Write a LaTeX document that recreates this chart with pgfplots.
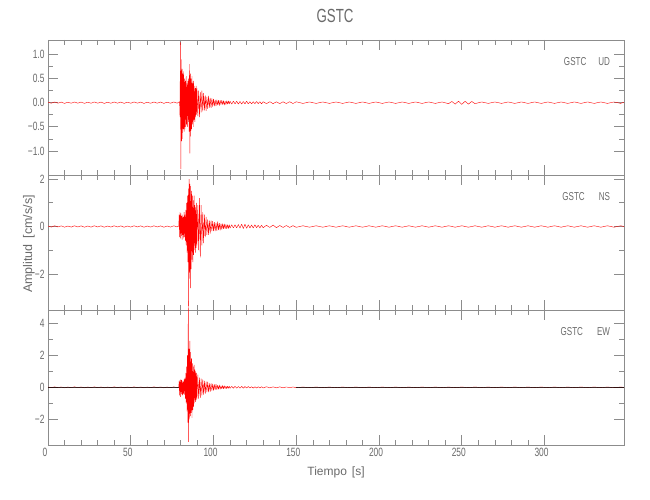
\documentclass[border=0pt]{standalone}
\usepackage{pgfplots}
\pgfplotsset{compat=1.18}
\usepackage{fontspec}
\setmainfont[FakeStretch=0.7]{Liberation Sans}
\newfontfamily\labfont{Liberation Sans}
\definecolor{axgray}{HTML}{8C8C8C}
\definecolor{labgray}{HTML}{6A6A6A}
\pgfplotsset{
  seis/.style={
    width=576pt, height=135pt, scale only axis,
    xmin=0, xmax=348,
    xtick={0,50,...,300}, minor x tick num=4,
    tick align=inside,
    major tick length=10pt, minor tick length=5pt,
    axis line style={axgray, line width=0.6pt},
    every tick/.style={axgray, line width=0.6pt},
    tick label style={font=\fontsize{12}{14}\selectfont, text=labgray},
    xticklabel style={xshift=-3pt},
    /pgf/number format/assume math mode=true,
    minor y tick num=1,
  },
  trace/.style={red, line width=0.4pt, no markers, line join=bevel},
}
\tikzset{plab/.style={anchor=east, inner sep=0pt, font=\fontsize{11.5}{13}\selectfont, text=labgray}}
\begin{document}
\begin{tikzpicture}
\useasboundingbox (0,0) rectangle (650pt,500pt);
% ---------- UD ----------
\begin{axis}[seis, at={(48pt,325pt)}, anchor=south west,
  ymin=-1.5, ymax=1.3, ytick={-1,-0.5,0,0.5,1}, minor y tick num=1,
  yticklabels={−1.0,−0.5,0.0,0.5,1.0},
  xticklabels={}]
\addplot[trace] coordinates {
(0,0.01)(2,-0.012)(4,0.015)(6,-0.01)(8,0.012)(10,-0.015)(12,0.01)(14,-0.012)(16,0.014)(18,-0.01)(20,0.012)(22,-0.014)(24,0.01)(26,-0.012)(28,0.015)(30,-0.01)(32,0.012)(34,-0.015)(36,0.01)(38,-0.012)(40,0.014)(42,-0.01)(44,0.012)(46,-0.014)(48,0.01)(50,-0.012)(52,0.015)(54,-0.01)(56,0.012)(58,-0.015)(60,0.01)(62,-0.012)(64,0.014)(66,-0.01)(68,0.012)(70,-0.014)(72,0.01)(74,-0.012)(76,0.015)(78,-0.01)
(79.5,0.02)(79.75,-0.3)(80,1.25)(80.25,-1.38)(80.5,0.9)(80.75,-0.8)(81,0.7)(81.25,-0.75)(81.5,0.6)(81.75,-0.55)(82,0.65)(82.25,-0.6)(82.5,0.5)(82.75,-0.55)(83,0.45)(83.25,-0.5)(83.5,0.55)(83.75,-0.45)(84,0.4)(84.25,-0.5)(84.5,0.45)(84.75,-0.4)(85,0.5)(85.25,-0.6)(85.5,0.8)(85.75,-1.05)(86,0.6)(86.25,-0.7)(86.5,0.5)(86.75,-0.55)(87,0.55)(87.25,-0.45)(87.5,0.4)(87.75,-0.5)(88,0.45)(88.25,-0.35)(88.5,0.35)(88.75,-0.4)(89,0.3)(89.25,-0.3)(89.5,0.35)(89.75,-0.25)(90,0.3)
(90.5,-0.28)(91,0.25)(91.5,-0.3)(92,0.22)(92.5,-0.2)(93,0.25)(93.5,-0.18)(94,0.2)(94.5,-0.16)(95,0.15)(95.5,-0.17)(96,0.12)(96.5,-0.13)(97,0.14)(97.5,-0.1)(98,0.1)(98.5,-0.11)(99,0.09)(99.5,-0.08)(100,0.08)(100.5,-0.07)(101,0.06)(101.5,-0.07)(102,0.06)(102.5,-0.05)(103,0.05)(103.5,-0.06)(104,0.05)(104.5,-0.04)(105,0.05)(105.5,-0.04)(106,0.04)(106.5,-0.05)(107,0.03)(107.5,-0.04)(108,0.04)(108.5,-0.03)(109,0.035)(109.5,-0.03)(110,0.03)
(111,-0.03)(112,0.03)(113,-0.025)(114,0.03)(115,-0.03)(116,0.025)(117,-0.03)(118,0.025)(119,-0.025)(120,0.03)(121,-0.025)(122,0.02)(123,-0.025)(124,0.02)(125,-0.02)(126,0.025)(127,-0.02)(128,0.02)(129,-0.025)(130,0.02)(132,-0.02)(134,0.02)(136,-0.02)(138,0.018)(140,-0.02)(142,0.018)(144,-0.018)(146,0.02)(148,-0.018)(150,0.018)
(154,-0.015)(158,0.015)(162,-0.015)(166,0.015)(170,-0.015)(174,0.015)(178,-0.015)(182,0.015)(186,-0.015)(190,0.015)(194,-0.015)(198,0.015)(202,-0.015)(206,0.015)(210,-0.015)(214,0.015)(218,-0.015)(222,0.015)(226,-0.015)(230,0.015)(234,-0.015)(238,0.015)(242,-0.02)(244,0.025)(246,-0.03)(248,0.03)(250,-0.035)(252,0.03)(254,-0.03)(256,0.025)(258,-0.02)(262,0.015)(266,-0.015)(270,0.015)(274,-0.015)(278,0.015)(282,-0.015)(286,0.015)(290,-0.015)(294,0.015)(298,-0.015)(302,0.015)(306,-0.015)(310,0.015)(314,-0.015)(318,0.015)(322,-0.015)(326,0.015)(330,-0.015)(334,0.015)(338,-0.015)(342,0.015)(346,-0.015)(348,0.01)
};
\node[plab] at (rel axis cs:0.976,0.837) {GSTC\hspace{12pt}UD};
\end{axis}
% ---------- NS ----------
\begin{axis}[seis, at={(48pt,190pt)}, anchor=south west,
  ymin=-3.52, ymax=2.17, ytick={-2,0,2}, minor y tick num=1,
  yticklabels={−2,0,2},
  xticklabels={}]
\addplot[trace] coordinates {
(0,0.02)(2,-0.025)(4,0.03)(6,-0.02)(8,0.025)(10,-0.03)(12,0.02)(14,-0.025)(16,0.03)(18,-0.02)(20,0.025)(22,-0.03)(24,0.02)(26,-0.025)(28,0.03)(30,-0.02)(32,0.025)(34,-0.03)(36,0.02)(38,-0.025)(40,0.03)(42,-0.02)(44,0.025)(46,-0.03)(48,0.02)(50,-0.025)(52,0.03)(54,-0.02)(56,0.025)(58,-0.03)(60,0.02)(62,-0.025)(64,0.03)(66,-0.02)(68,0.025)(70,-0.03)(72,0.02)(74,-0.025)(76,0.03)(78,-0.02)
(79,0.02)(79.25,0.5)(79.5,-0.45)(79.75,0.6)(80,-0.5)(80.25,0.55)(80.5,-0.4)(80.75,0.45)(81,-0.55)(81.25,0.5)(81.5,-0.35)(81.75,0.4)(82,-0.5)(82.25,0.6)(82.5,-0.45)(82.75,0.5)(83,-0.6)(83.25,0.7)(83.5,-0.8)(83.75,1.0)(84,-1.1)(84.25,1.3)(84.5,-1.5)(84.75,1.6)(85,-3.35)(85.25,2.0)(85.5,-2.2)(85.75,1.8)(86,-2.6)(86.25,1.7)(86.5,-1.8)(86.75,1.5)(87,-1.4)(87.25,1.3)(87.5,-1.5)(87.75,1.1)(88,-1.2)(88.25,1.3)(88.5,-1.0)(88.75,0.9)(89,-1.1)(89.25,0.8)(89.5,-0.9)(89.75,1.0)(90,-0.8)
(90.5,0.9)(91,-1.0)(91.5,1.2)(92,-1.3)(92.5,0.9)(93,-0.8)(93.5,0.6)(94,-0.7)(94.5,0.5)(95,-0.45)(95.5,0.4)(96,-0.35)(96.5,0.3)(97,-0.35)(97.5,0.25)(98,-0.3)(98.5,0.25)(99,-0.2)(99.5,0.22)(100,-0.2)(100.5,0.18)(101,-0.2)(101.5,0.15)(102,-0.18)(102.5,0.2)(103,-0.15)(103.5,0.14)(104,-0.16)(104.5,0.12)(105,-0.13)(105.5,0.12)(106,-0.1)(106.5,0.11)(107,-0.1)(107.5,0.09)(108,-0.1)(108.5,0.08)(109,-0.09)(109.5,0.08)(110,-0.07)
(111,0.07)(112,-0.06)(113,0.07)(114,-0.06)(115,0.08)(116,-0.07)(117,0.1)(118,-0.09)(119,0.1)(120,-0.08)(121,0.07)(122,-0.06)(123,0.06)(124,-0.06)(125,0.07)(126,-0.05)(127,0.05)(128,-0.06)(129,0.05)(130,-0.05)(132,0.05)(134,-0.04)(136,0.06)(138,-0.05)(140,0.04)(142,-0.04)(144,0.04)(146,-0.04)(148,0.035)(150,-0.035)
(154,0.03)(158,-0.03)(162,0.03)(166,-0.03)(170,0.03)(174,-0.03)(178,0.03)(182,-0.03)(186,0.03)(190,-0.03)(194,0.03)(198,-0.03)(202,0.03)(206,-0.03)(210,0.03)(214,-0.03)(218,0.03)(222,-0.03)(226,0.03)(230,-0.03)(234,0.03)(238,-0.03)(242,0.03)(246,-0.03)(250,0.03)(254,-0.03)(258,0.03)(262,-0.03)(266,0.03)(270,-0.03)(274,0.03)(278,-0.03)(282,0.03)(286,-0.03)(290,0.03)(294,-0.03)(298,0.03)(302,-0.03)(306,0.03)(310,-0.03)(314,0.03)(318,-0.03)(322,0.03)(326,-0.03)(330,0.03)(334,-0.03)(338,0.03)(342,-0.03)(346,0.03)(348,0)
};
\node[plab] at (rel axis cs:0.976,0.837) {GSTC\hspace{14pt}NS};
\end{axis}
% ---------- EW ----------
\begin{axis}[seis, at={(48pt,55pt)}, anchor=south west, clip=false,
  ymin=-3.6, ymax=4.83, ytick={-2,0,2,4}, minor y tick num=1,
  yticklabels={−2,0,2,4}]
\addplot[trace] coordinates {
(0,0.02)(2,-0.025)(4,0.03)(6,-0.02)(8,0.025)(10,-0.03)(12,0.02)(14,-0.025)(16,0.03)(18,-0.02)(20,0.025)(22,-0.03)(24,0.02)(26,-0.025)(28,0.03)(30,-0.02)(32,0.025)(34,-0.03)(36,0.02)(38,-0.025)(40,0.03)(42,-0.02)(44,0.025)(46,-0.03)(48,0.02)(50,-0.025)(52,0.03)(54,-0.02)(56,0.025)(58,-0.03)(60,0.02)(62,-0.025)(64,0.03)(66,-0.02)(68,0.025)(70,-0.03)(72,0.02)(74,-0.025)(76,0.03)(78,-0.02)
(79,0.02)(79.25,0.4)(79.5,-0.5)(79.75,0.45)(80,-0.6)(80.25,0.5)(80.5,-0.4)(80.75,0.45)(81,-0.5)(81.25,0.4)(81.5,-0.45)(81.75,0.35)(82,-0.4)(82.25,0.5)(82.5,-0.45)(82.75,0.6)(83,-0.7)(83.25,0.9)(83.5,-1.0)(83.75,1.3)(84,-1.5)(84.25,2.0)(84.5,-2.2)(84.75,5.4)(85,-3.4)(85.25,2.4)(85.5,-2.0)(85.75,2.9)(86,-1.8)(86.25,2.2)(86.5,-1.6)(86.75,1.8)(87,-1.9)(87.25,1.5)(87.5,-1.4)(87.75,1.3)(88,-1.2)(88.25,1.4)(88.5,-1.0)(88.75,1.1)(89,-0.9)(89.25,1.0)(89.5,-0.8)(89.75,0.9)(90,-0.7)
(90.5,0.8)(91,-0.7)(91.5,0.6)(92,-0.65)(92.5,0.55)(93,-0.5)(93.5,0.5)(94,-0.45)(94.5,0.4)(95,-0.4)(95.5,0.35)(96,-0.3)(96.5,0.35)(97,-0.3)(97.5,0.25)(98,-0.28)(98.5,0.25)(99,-0.2)(99.5,0.22)(100,-0.2)(100.5,0.18)(101,-0.15)(101.5,0.2)(102,-0.15)(102.5,0.13)(103,-0.12)(103.5,0.15)(104,-0.12)(104.5,0.1)(105,-0.1)(105.5,0.12)(106,-0.09)(106.5,0.1)(107,-0.08)(107.5,0.08)(108,-0.09)(108.5,0.07)(109,-0.06)(109.5,0.07)(110,-0.06)
(111,0.06)(112,-0.05)(113,0.06)(114,-0.05)(115,0.05)(116,-0.05)(117,0.06)(118,-0.05)(119,0.05)(120,-0.04)(121,0.05)(122,-0.04)(123,0.04)(124,-0.05)(125,0.04)(126,-0.04)(127,0.04)(128,-0.035)(129,0.04)(130,-0.035)(132,0.035)(134,-0.03)(136,0.03)(138,-0.03)(140,0.03)(142,-0.03)(144,0.025)(146,-0.025)(148,0.025)(150,-0.025)
(154,0.02)(158,-0.02)(162,0.02)(166,-0.02)(170,0.02)(174,-0.02)(178,0.02)(182,-0.02)(186,0.02)(190,-0.02)(194,0.02)(198,-0.02)(202,0.02)(206,-0.02)(210,0.02)(214,-0.02)(218,0.02)(222,-0.02)(226,0.02)(230,-0.02)(234,0.02)(238,-0.02)(242,0.02)(246,-0.02)(250,0.02)(254,-0.02)(258,0.02)(262,-0.02)(266,0.02)(270,-0.02)(274,0.02)(278,-0.02)(282,0.02)(286,-0.02)(290,0.02)(294,-0.02)(298,0.02)(302,-0.02)(306,0.02)(310,-0.02)(314,0.02)(318,-0.02)(322,0.02)(326,-0.02)(330,0.02)(334,-0.02)(338,0.02)(342,-0.02)(346,0.02)(348,0)
};
\addplot[black, opacity=0.75, line width=0.5pt, no markers] coordinates {(0,0)(79,0)};
\addplot[black, opacity=0.75, line width=0.5pt, no markers] coordinates {(150,0)(348,0)};
\node[plab] at (rel axis cs:0.976,0.837) {GSTC\hspace{14pt}EW};
\end{axis}
% ---------- titles ----------
\node[font=\fontsize{19}{21}\selectfont, text=labgray] at (335pt,484pt) {GSTC};
\node[font=\labfont\fontsize{12}{14}\selectfont, text=labgray] at (336pt,28pt) {Tiempo\hspace{5pt}[s]};
\node[font=\labfont\fontsize{12.5}{14}\selectfont, text=labgray, rotate=90] at (29pt,256pt) {Amplitud\hspace{6pt}[cm/s/s]};
\end{tikzpicture}
\end{document}
